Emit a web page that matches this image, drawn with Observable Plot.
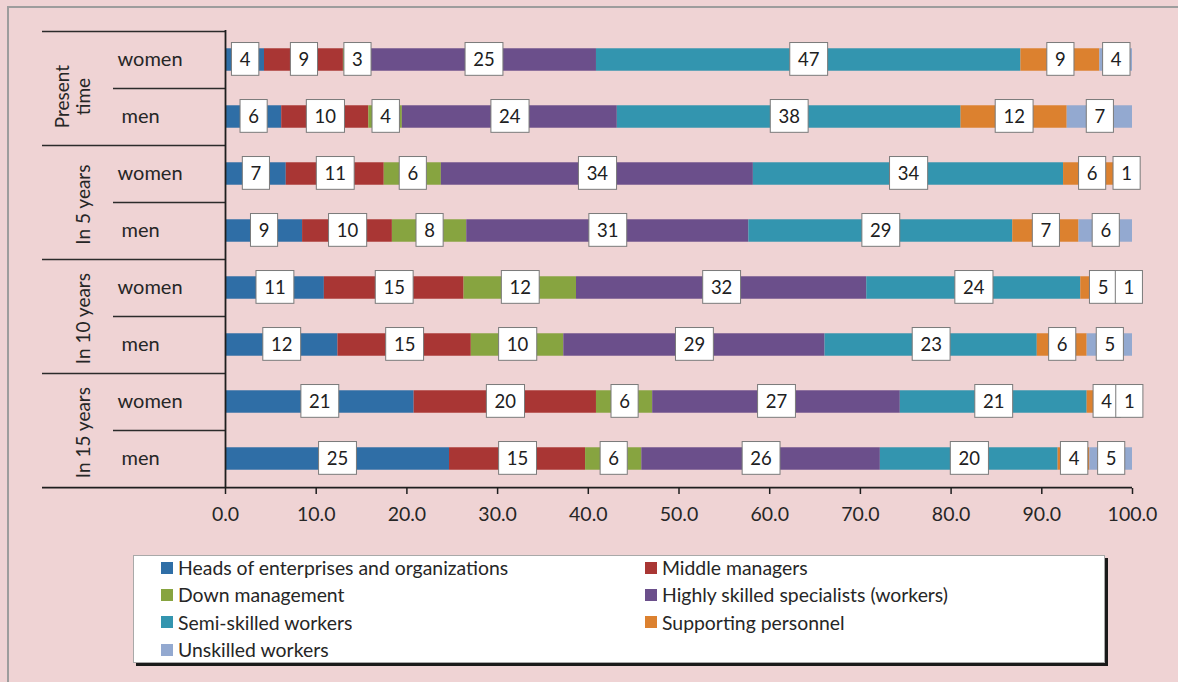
<!DOCTYPE html>
<html><head><meta charset="utf-8">
<script src="https://cdn.jsdelivr.net/npm/d3@7"></script>
<script src="https://cdn.jsdelivr.net/npm/@observablehq/plot@0.6"></script>
<style>
html,body{margin:0;padding:0;background:#efd3d4;}
body{width:1178px;height:682px;overflow:hidden;position:relative;font-family:Lato, sans-serif;}
#frame{position:absolute;left:7px;top:6px;width:1300px;height:800px;border-left:2px solid #9d9d9d;border-top:2px solid #9d9d9d;}
#chart{position:absolute;left:0;top:0;}
#legend{position:absolute;left:133px;top:555px;width:970px;height:106px;background:#fff;border:1px solid #a9a9a9;box-shadow:3px 3px 0 #1a1a1a;overflow:hidden;}
#legend .lg-swatches{font:19.4px Lato, sans-serif;color:#262626;margin:-2px 0 0 0;padding:0 0 0 27px;box-sizing:border-box;width:970px;column-gap:25px;}
#legend .lg-swatch{height:27.3px;padding:0;margin:0;display:flex;align-items:center;}
#legend .lg-swatch svg{margin-right:5px;flex-shrink:0;}
</style></head>
<body><div id="frame"></div><div id="chart"></div><div id="legend"></div>
<script>
// ---- data ----
const groups = ["Present\ntime", "In 5 years", "In 10 years", "In 15 years"];
const sexes = ["women", "men"];
const categories = [
  "Heads of enterprises and organizations",
  "Middle managers",
  "Down management",
  "Highly skilled specialists (workers)",
  "Semi-skilled workers",
  "Supporting personnel",
  "Unskilled workers"
];
const colors = ["#2f6ea6", "#a93634", "#87a440", "#6b4f8b", "#3395af", "#dc812f", "#93a9d0"];
// rows: Present women, Present men, 5y women, 5y men, 10y women, 10y men, 15y women, 15y men
const heads     = [4.3, 6.2, 6.7, 8.5, 10.9, 12.4, 20.8, 24.7];
const middle    = [8.7, 9.6, 10.8, 9.9, 15.4, 14.7, 20.1, 15.0];
const down      = [3.1, 3.7, 6.3, 8.2, 12.4, 10.2, 6.2, 6.2];
const highly    = [24.8, 23.7, 34.4, 31.1, 32.0, 28.8, 27.3, 26.3];
const semi      = [46.8, 37.9, 34.2, 29.1, 23.6, 23.4, 20.6, 19.6];
const support   = [8.7, 11.7, 6.3, 7.3, 4.9, 5.5, 4.3, 3.5];
const unskilled = [3.6, 7.2, 1.3, 5.9, 0.8, 5.0, 0.7, 4.7];
const xTicks = [0, 10, 20, 30, 40, 50, 60, 70, 80, 90, 100];

// ---- build table ----
const series = [heads, middle, down, highly, semi, support, unskilled];
const rowKeys = groups.flatMap(g => sexes.map(s => g + "|" + s));
const table = rowKeys.flatMap((row, i) => categories.map((cat, j) => ({row, cat, value: series[j][i]})));
const womenRows = rowKeys.filter(k => k.endsWith("|women"));
const menRows = rowKeys.filter(k => k.endsWith("|men"));

const W = 1178, H = 545, MT = 30, MB = 57, ML = 225, MR = 46;
const step = (H - MT - MB) / rowKeys.length;
const barInset = (step - 22.7) / 2;
const LABEL_FILL = "#202021";
const TXT = "#262626";

const plot = Plot.plot({
  width: W, height: H,
  marginTop: MT, marginBottom: MB, marginLeft: ML, marginRight: MR,
  style: {background: "transparent", fontFamily: "Lato, sans-serif", color: TXT, overflow: "visible"},
  x: {domain: [0, 100]},
  y: {type: "band", domain: rowKeys, padding: 0, axis: null},
  color: {domain: categories, range: colors},
  marks: [
    Plot.barX(table, {x: "value", y: "row", fill: "cat", insetTop: barInset, insetBottom: barInset}),
    // group separators
    Plot.ruleY(womenRows, {dy: -step / 2, insetLeft: -(ML - 42), insetRight: W - MR - ML, stroke: "#2b2b2b", strokeWidth: 1.5}),
    // row separators
    Plot.ruleY(menRows, {dy: -step / 2, insetLeft: -(ML - 113), insetRight: W - MR - ML, stroke: "#2b2b2b", strokeWidth: 1.5}),
    // bottom line (full width)
    Plot.ruleY([rowKeys[rowKeys.length - 1]], {dy: step / 2, insetLeft: -(ML - 42), stroke: "#1e1e1e", strokeWidth: 1.8}),
    Plot.ruleX([0], {stroke: "#1e1e1e", strokeWidth: 1.8}),
    Plot.axisX(xTicks, {anchor: "bottom", tickSize: 6, tickPadding: 13, tickFormat: d3.format(".1f"), fontSize: 19.5, stroke: "#1e1e1e", strokeWidth: 1.5, fill: TXT, label: null}),
    // sex labels
    Plot.text(womenRows, {y: d => d, text: d => d.split("|")[1], frameAnchor: "left", dx: -(ML - 117), textAnchor: "start", fontSize: 20, fill: TXT}),
    Plot.text(menRows, {y: d => d, text: d => d.split("|")[1], frameAnchor: "left", dx: -(ML - 121), textAnchor: "start", fontSize: 20, fill: TXT}),
    // group labels
    Plot.text(womenRows.slice(1), {y: d => d, text: d => d.split("|")[0], frameAnchor: "left", textAnchor: "middle", lineAnchor: "middle", dx: -(ML - 83), dy: step / 2 + 2, rotate: -90, fontSize: 19, fill: TXT}),
    Plot.text(womenRows.slice(0, 1), {y: d => d, text: d => d.split("|")[0], frameAnchor: "left", textAnchor: "middle", lineAnchor: "middle", dx: -(ML - 72), dy: step / 2 + 8, rotate: -90, lineHeight: 1.12, fontSize: 19, fill: TXT}),
    // segment value labels
    Plot.text(table, Plot.stackX({x: "value", y: "row", text: d => String(Math.round(d.value)), fontSize: 18.5, fill: LABEL_FILL}))
  ]
});
document.getElementById("chart").appendChild(plot);

// white boxes behind segment labels
const ns = "http://www.w3.org/2000/svg";
plot.querySelectorAll(`g[fill="${LABEL_FILL}"]`).forEach(g => {
  g.querySelectorAll("text").forEach(t => {
    const bb = t.getBBox();
    const r = document.createElementNS(ns, "rect");
    const cy = bb.y + bb.height / 2;
    r.setAttribute("x", bb.x - 8.2);
    r.setAttribute("y", cy - 16.4);
    r.setAttribute("width", bb.width + 16.4);
    r.setAttribute("height", 32.8);
    r.setAttribute("fill", "#ffffff");
    r.setAttribute("stroke", "#7a7a7a");
    r.setAttribute("stroke-width", "1");
    const tr = t.getAttribute("transform");
    if (tr) r.setAttribute("transform", tr);
    g.insertBefore(r, t);
  });
});

// legend (column-major order so it reads row by row like the original)
const legendOrder = [0, 2, 4, 6, 1, 3, 5].map(i => categories[i]);
const legendColors = [0, 2, 4, 6, 1, 3, 5].map(i => colors[i]);
const legend = Plot.legend({
  color: {type: "ordinal", domain: legendOrder, range: legendColors},
  columns: 2, swatchSize: 12, className: "lg"
});
document.getElementById("legend").appendChild(legend);
</script>
</body></html>
